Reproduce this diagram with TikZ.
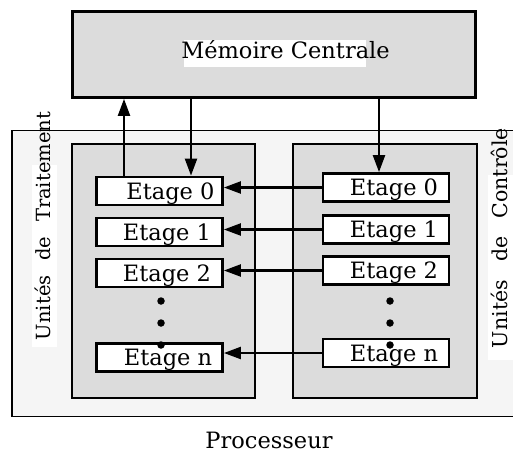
\documentclass[tikz,border=0pt]{standalone}
\usepackage{fontspec}
\setmainfont{DejaVu Serif}
\usetikzlibrary{arrows.meta}
\definecolor{boxgray}{HTML}{DCDCDC}
\definecolor{outergray}{HTML}{F5F5F5}
\begin{document}
\begin{tikzpicture}[x=1pt,y=-1pt,
  font=\fontsize{22.5}{27}\selectfont,
  membox/.style={draw, line width=2.8pt, fill=boxgray, inner sep=0pt},
  outerbox/.style={draw, line width=1.8pt, fill=outergray, inner sep=0pt},
  innerbox/.style={draw, line width=2.2pt, fill=boxgray, inner sep=0pt},
  stagebox/.style={draw, fill=white, line width=2.8pt, minimum width=126pt,
    minimum height=28pt, inner sep=0pt, text depth=0pt, text height=16pt},
  arr/.style={line width=2.2pt, -{Triangle[length=17pt,width=12pt]}},
  dotnode/.style={circle, fill=black, inner sep=0pt, minimum size=7.5pt},
  vlabel/.style={rotate=90, anchor=base, inner sep=0pt}]
\useasboundingbox (0,0) rectangle (513,452);
\clip (0,0) rectangle (513,452);
% memory
\node[membox, minimum width=403pt, minimum height=86pt] (mem) at (274,54.5) {};
\fill[white] (184,40) rectangle (366,67);
\node[anchor=base, inner sep=0pt] (memlabel) at (285.5,59) {Mémoire Centrale};
% processor
\node[outerbox, minimum width=520pt, minimum height=286pt] (proc) at (272,273.5) {};
\node[anchor=base, inner sep=0pt] (proclabel) at (269,448) {Processeur};
% inner units
\node[innerbox, minimum width=183pt, minimum height=254pt] (ut) at (163.5,271) {};
\node[innerbox, minimum width=184pt, minimum height=254pt] (uc) at (385,271) {};
% vertical labels
\fill[white] (32,165) rectangle (57,347);
\fill[white] (488,175) rectangle (513,360);
\node[vlabel, font=\fontsize{19.5}{24}\selectfont] (utlabel) at (50,226)
  {\makebox[228pt][s]{Unités de Traitement}};
\node[vlabel, font=\fontsize{20.5}{24}\selectfont] (uclabel) at (507,238)
  {\makebox[220pt][s]{Unités de Contrôle}};
% stages
\node[stagebox] (l0) at (159.5,191) {\hspace*{22pt}Etage 0};
\node[stagebox] (l1) at (159.5,232) {\hspace*{15pt}Etage 1};
\node[stagebox] (l2) at (159.5,273) {\hspace*{15pt}Etage 2};
\node[stagebox] (ln) at (159.5,357.5) {\hspace*{17pt}Etage n};
\node[stagebox] (r0) at (386,187.5) {\hspace*{16pt}Etage 0};
\node[stagebox] (r1) at (386,229.5) {\hspace*{16pt}Etage 1};
\node[stagebox] (r2) at (386,270.5) {\hspace*{16pt}Etage 2};
\node[stagebox] (rn) at (386,353) {\hspace*{16pt}Etage n};
% dots
\node[dotnode] (ld1) at (161,301) {};
\node[dotnode] (ld2) at (161,323) {};
\node[dotnode] (ld3) at (161,345) {};
\node[dotnode] (rd1) at (390,301) {};
\node[dotnode] (rd2) at (390,323) {};
\node[dotnode] (rd3) at (390,345) {};
% vertical arrows
\coordinate (xa) at (124,0);
\coordinate (xb) at (191,0);
\coordinate (xc) at (379,0);
\draw[arr] (l0.north -| xa) -- (mem.south -| xa);
\draw[arr] (mem.south -| xb) -- (l0.north -| xb);
\draw[arr] (mem.south -| xc) -- (r0.north -| xc);
% horizontal arrows
\draw[arr] (r0.west) -- (l0.east |- r0.west);
\draw[arr] (r1.west) -- (l1.east |- r1.west);
\draw[arr] (r2.west) -- (l2.east |- r2.west);
\draw[arr] (rn.west) -- (ln.east |- rn.west);
\end{tikzpicture}
\end{document}
